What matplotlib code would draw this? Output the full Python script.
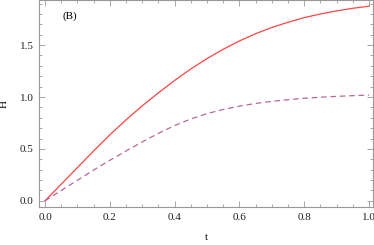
import numpy as np
import matplotlib.pyplot as plt
from matplotlib.ticker import MultipleLocator

# values
t = [0.0, 0.05, 0.1, 0.15, 0.2, 0.25, 0.3, 0.35, 0.4, 0.45, 0.5,
     0.55, 0.6, 0.65, 0.7, 0.75, 0.8, 0.85, 0.9, 0.95, 1.0]
h_solid = [0.0, 0.16, 0.32, 0.48, 0.635, 0.78, 0.915, 1.04, 1.16, 1.27, 1.37,
           1.46, 1.54, 1.61, 1.67, 1.72, 1.765, 1.80, 1.83, 1.855, 1.875]
h_dashed = [0.0, 0.099, 0.198, 0.296, 0.39, 0.48, 0.567, 0.65, 0.725, 0.788, 0.84,
            0.88, 0.912, 0.938, 0.958, 0.974, 0.988, 0.998, 1.006, 1.013, 1.019]

plt.rcParams['font.family'] = ['Liberation Serif', 'DejaVu Serif']
plt.rcParams['font.size'] = 8

fig = plt.figure(figsize=(3.74, 2.45), dpi=100)
ax = fig.add_axes([0.1043, 0.155, 0.8927, 0.843])

ax.plot(t, h_solid, color='#ff4444', lw=0.9)
ax.plot(t, h_dashed, color='#b5689a', lw=0.9, dashes=(4.5, 3))

ax.set_xlim(-0.0185, 1.012)
ax.set_ylim(-0.06, 1.93)

ax.xaxis.set_major_locator(MultipleLocator(0.2))
ax.xaxis.set_minor_locator(MultipleLocator(0.05))
ax.yaxis.set_major_locator(MultipleLocator(0.5))
ax.yaxis.set_minor_locator(MultipleLocator(0.1))
ax.xaxis.set_major_formatter(plt.FormatStrFormatter('%.1f'))
ax.yaxis.set_major_formatter(plt.FormatStrFormatter('%.1f'))

frame = '#999999'
for s in ax.spines.values():
    s.set_color(frame)
    s.set_linewidth(0.8)
ax.tick_params(which='both', direction='in', top=True, right=True, color=frame, width=0.6)
ax.tick_params(which='major', length=4, pad=4, labelcolor='#222222')
ax.tick_params(which='minor', length=2.2)

ax.set_xlabel('t', labelpad=8)
ax.set_ylabel('H', labelpad=8)
ax.text(0.0756, 1.776, '(B)', ha='center', va='center')

fig.savefig('out.png', dpi=100)
